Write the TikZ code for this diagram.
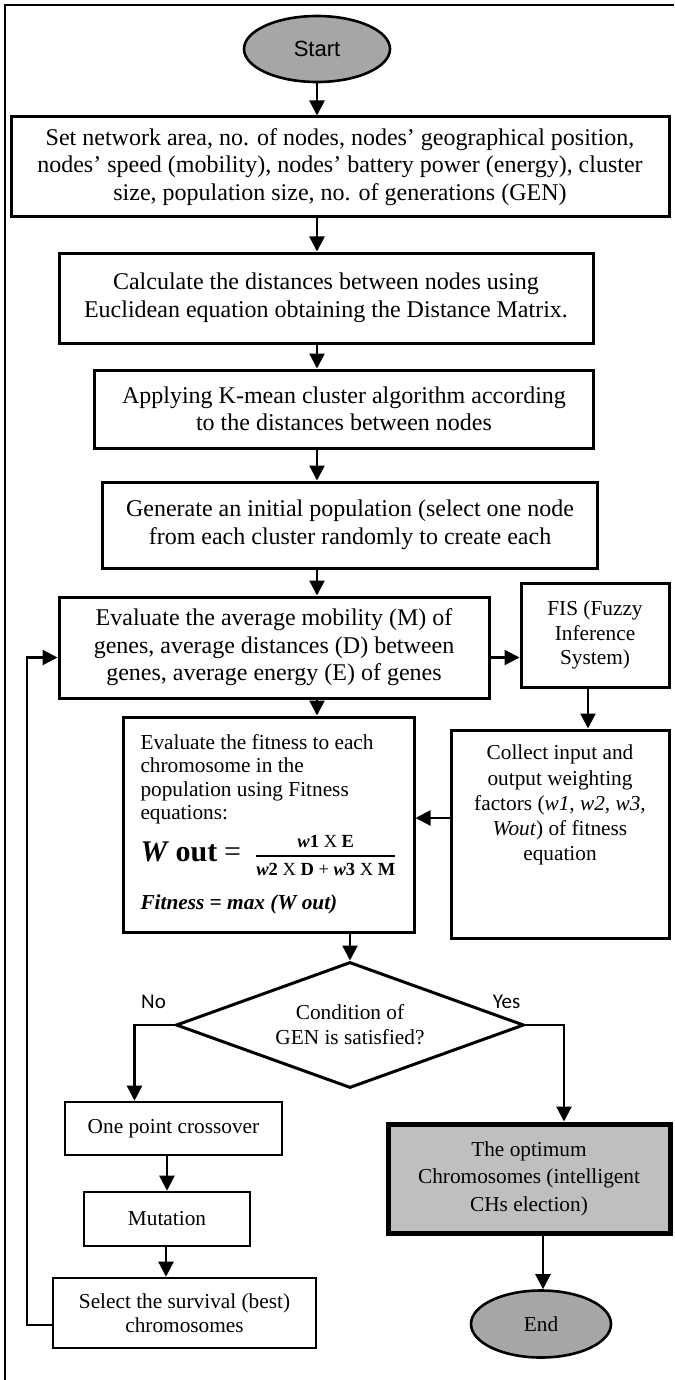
\documentclass[tikz,border=0pt]{standalone}
\usepackage{fontspec}
\usepackage{amsmath}
\setmainfont{Liberation Serif}
\newfontfamily\startfont{Liberation Sans}
\newfontfamily\yesnofont{Carlito}
\usetikzlibrary{arrows.meta}
\usetikzlibrary{shapes.geometric}
\usepackage{xcolor}
\definecolor{termgray}{RGB}{166,166,166}
\definecolor{optgray}{RGB}{191,191,191}

\begin{document}
\begin{tikzpicture}[->,>={Triangle[length=15pt,width=15pt]},line width=2.4pt,
  x=1pt,y=-1pt,
  big box/.style={rectangle,draw,line width=3pt,align=center,inner sep=0pt,
    font=\fontsize{24pt}{27.5pt}\selectfont},
  small box/.style={rectangle,draw,line width=2.6pt,align=center,inner sep=0pt,
    font=\fontsize{21.3pt}{24.5pt}\selectfont},
  term/.style={ellipse,draw,line width=2.6pt,fill=termgray,inner sep=0pt},
  decision/.style={diamond,draw,line width=3pt,align=center,inner sep=0pt,
    shape aspect=2.76,font=\fontsize{21.3pt}{25pt}\selectfont},
  yes no/.style={font=\yesnofont\fontsize{21pt}{21pt}\selectfont}]

  \useasboundingbox (0,0) rectangle (674,1380);
  \draw[-,line width=1.6pt] (5,1380) -- (5,5) -- (674,5);

  \node[term,minimum width=146pt,minimum height=66pt,
    font=\startfont\fontsize{22pt}{22pt}\selectfont] (start) at (317,49) {Start};
  \node[big box,minimum width=658pt,minimum height=100pt] (set) at (340,167)
    {Set network area, no. of nodes, nodes’ geographical position,\\
     nodes’ speed (mobility), nodes’ battery power (energy), cluster\\
     size, population size, no. of generations (GEN)};
  \node[big box,minimum width=534pt,minimum height=90pt] (calc) at (326,298)
    {Calculate the distances between nodes using\\
     Euclidean equation obtaining the Distance Matrix.};
  \node[big box,minimum width=499pt,minimum height=78pt] (kmean) at (344,409)
    {Applying K-mean cluster algorithm according\\
     to the distances between nodes};
  \node[big box,minimum width=495pt,minimum height=86pt] (init) at (350,525)
    {Generate an initial population (select one node\\
     from each cluster randomly to create each};
  \node[big box,minimum width=430pt,minimum height=101pt] (eval) at (274,647.5)
    {Evaluate the average mobility (M) of\\
     genes, average distances (D) between\\
     genes, average energy (E) of genes};
  \node[small box,line width=3pt,minimum width=148pt,minimum height=104pt] (fis) at (595,635)
    {FIS (Fuzzy\\ Inference\\ System)};
  \node[small box,line width=3pt,minimum width=291pt,minimum height=215pt,
    font=\fontsize{21.3pt}{23.5pt}\selectfont] (fit) at (268.5,824.5)
    {\parbox[c][207pt][t]{256pt}{\raggedright\vspace*{13pt}%
     Evaluate the fitness to each\\
     chromosome in the\\
     population using Fitness\\
     equations:\\[10pt]
     {\fontsize{30pt}{30pt}\selectfont\textbf{\textit{W}} \textbf{out} =}\hspace{14pt}%
     $\genfrac{}{}{1.4pt}{0}%
       {\mbox{\fontsize{18.5pt}{18.5pt}\selectfont\textbf{\textit{w}1} X \textbf{E}}}%
       {\mbox{\fontsize{18.5pt}{18.5pt}\selectfont\textbf{\textit{w}2} X \textbf{D} + \textbf{\textit{w}3} X \textbf{M}}}$\\[18pt]
     \textbf{\textit{Fitness = max (W out)}}}};
  \node[small box,line width=3pt,minimum width=218pt,minimum height=208pt,
    font=\fontsize{21.3pt}{25.3pt}\selectfont] (collect) at (560,834)
    {\parbox[c][200pt][t]{214pt}{\centering\vspace*{11pt}%
     Collect input and\\ output weighting\\ factors (\textit{w1, w2, w3,}\\
     \textit{Wout}) of fitness\\ equation}};
  \node[decision,minimum width=348pt,minimum height=126pt] (cond) at (350,1025)
    {Condition of\\ GEN is satisfied?};
  \node[small box,minimum width=217pt,minimum height=53pt] (cross) at (173.5,1128.5)
    {One point crossover};
  \node[small box,minimum width=166pt,minimum height=54pt] (mut) at (167,1219)
    {Mutation};
  \node[small box,minimum width=263pt,minimum height=70pt] (survive) at (184.5,1313)
    {Select the survival (best)\\ chromosomes};
  \node[small box,line width=5pt,fill=optgray,minimum width=282pt,minimum height=109pt,
    font=\fontsize{21.3pt}{27.5pt}\selectfont] (best) at (529,1178.5)
    {The optimum\\ Chromosomes (intelligent\\ CHs election)};
  \node[term,minimum width=140pt,minimum height=67pt,
    font=\fontsize{21.3pt}{21.3pt}\selectfont] (end) at (541,1324) {End};

  % main column
  \draw (start.south) -- (start.south |- set.north);
  \draw (set.south -| start) -- (calc.north -| start);
  \draw (calc.south -| start) -- (kmean.north -| start);
  \draw (kmean.south -| start) -- (init.north -| start);
  \draw (init.south -| start) -- (eval.north -| start);
  \draw (eval.south -| start) -- (fit.north -| start);
  \draw (fit.south -| cond) -- (cond.north);

  % fuzzy side
  \draw ([yshift=-10pt]eval.east) -- ([yshift=-10pt]eval.east -| fis.west);
  \draw ([xshift=-7pt]fis.south) -- ([xshift=-7pt]fis.south |- collect.north);
  \draw ([yshift=16pt]collect.west) -- ([yshift=16pt]collect.west -| fit.east);

  % decision
  \draw (cond.west) -| ([xshift=-39pt]cross.north)
    node[yes no,pos=0,above=12pt,xshift=-21pt] {No};
  \draw (cond.east) -| ([xshift=35pt]best.north)
    node[yes no,pos=0,above=12pt,xshift=-19pt] {Yes};
  \draw (cross.south -| mut) -- (mut.north);
  \draw ([xshift=-1pt]mut.south) -- ([xshift=-1pt]mut.south |- survive.north);
  \draw ([yshift=-12pt]survive.west) -- ++(-25,0) |- ([yshift=-10pt]eval.west);
  \draw ([xshift=2pt]end.north |- best.south) -- ([xshift=2pt]end.north);
\end{tikzpicture}
\end{document}
